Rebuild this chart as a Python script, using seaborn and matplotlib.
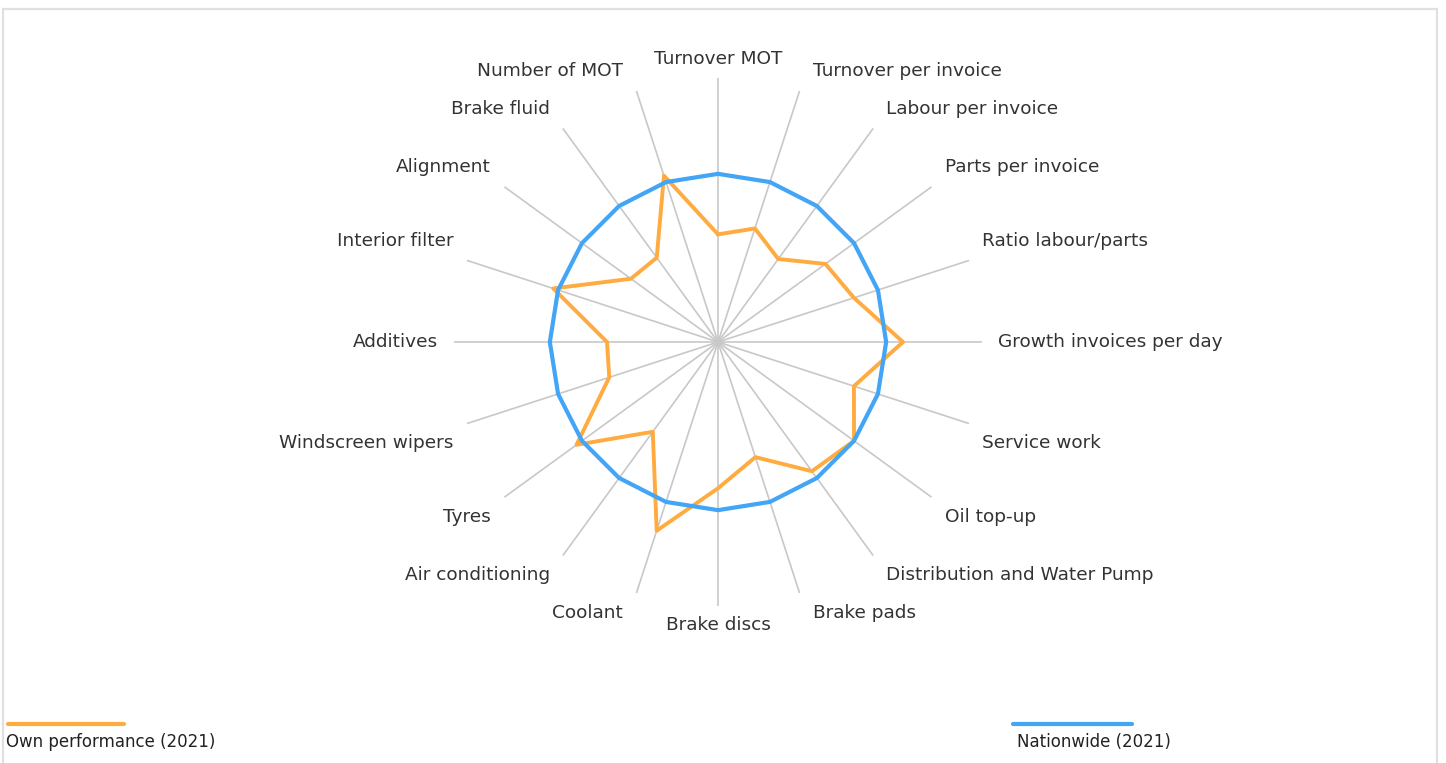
import numpy as np
import pandas as pd
import matplotlib
matplotlib.use("Agg")
import matplotlib.pyplot as plt
from matplotlib.lines import Line2D
from matplotlib.patches import Rectangle
import seaborn as sns

categories = [
    "Turnover MOT", "Turnover per invoice", "Labour per invoice", "Parts per invoice",
    "Ratio labour/parts", "Growth invoices per day", "Service work", "Oil top-up",
    "Distribution and Water Pump", "Brake pads", "Brake discs", "Coolant",
    "Air conditioning", "Tyres", "Windscreen wipers", "Additives",
    "Interior filter", "Alignment", "Brake fluid", "Number of MOT",
]
own_values = [64, 71, 61, 79, 85, 110, 85, 100, 95, 72, 87, 118,
              66, 104, 68, 66, 103, 64, 62, 104]
nationwide_values = [100] * 20
series_names = ["Own performance (2021)", "Nationwide (2021)"]
r_max = 157

orange = "#FFAB40"
blue = "#42A5F5"

sns.set_theme(style="white")
plt.rcParams['font.family'] = ['DejaVu Sans']

n = len(categories)
angles = np.linspace(0, 2 * np.pi, n, endpoint=False)

def closed_frame(values, name):
    th = list(angles) + [2 * np.pi]
    rr = list(values) + [values[0]]
    return pd.DataFrame({"theta": th, "r": rr, "series": name})

df = pd.concat([closed_frame(own_values, series_names[0]),
                closed_frame(nationwide_values, series_names[1])], ignore_index=True)

W, H = 1446, 763
fig = plt.figure(figsize=(W / 100, H / 100), dpi=100)
fig.patch.set_facecolor("white")

cx, cy, R = 718, 342, 264
ax = fig.add_axes([(cx - R) / W, (H - cy - R) / H, 2 * R / W, 2 * R / H], projection="polar")
ax.set_theta_zero_location("N")
ax.set_theta_direction(-1)
ax.set_ylim(0, r_max)
ax.set_facecolor("none")

# spokes
ax.set_xticks(angles)
ax.set_xticklabels([])
ax.set_yticks([])
ax.xaxis.grid(True, color="#c8c8c8", linewidth=1.2)
ax.yaxis.grid(False)
ax.spines["polar"].set_visible(False)

sns.lineplot(data=df[df.series == series_names[0]], x="theta", y="r", sort=False,
             estimator=None, color=orange, linewidth=2.8, ax=ax, legend=False, zorder=3)
sns.lineplot(data=df[df.series == series_names[1]], x="theta", y="r", sort=False,
             estimator=None, color=blue, linewidth=3.0, ax=ax, legend=False, zorder=4)
ax.set_xlabel("")
ax.set_ylabel("")
ax.set_ylim(0, r_max)

for ang, lab in zip(angles, categories):
    s, c = np.sin(ang), np.cos(ang)
    if abs(s) < 0.01:
        ha, dx = "center", 0
    elif s > 0:
        ha, dx = "left", 9.5
    else:
        ha, dx = "right", -9.5
    if abs(c) < 0.01:
        dy = 0
        dx = 11.5 * np.sign(s)
    else:
        dy = 14 * np.sign(c)
    ax.annotate(lab, xy=(ang, r_max), xytext=(dx, dy), textcoords="offset points",
                ha=ha, va="center", fontsize=13.3, color="#333333", annotation_clip=False)

# frame
fig.patches.append(Rectangle((3 / W, -0.05), (1437 - 3) / W, 1 - 9 / H + 0.05,
                             transform=fig.transFigure, fill=False,
                             edgecolor="#e0e0e0", linewidth=1.6))

# legend
ly = 1 - 724 / H
ty = 1 - 742 / H
fig.lines.append(Line2D([8 / W, 124 / W], [ly, ly], transform=fig.transFigure,
                        color=orange, linewidth=3))
fig.text(6 / W, ty, series_names[0], ha="left", va="center", fontsize=12, color="#222222")
fig.lines.append(Line2D([1013 / W, 1132 / W], [ly, ly], transform=fig.transFigure,
                        color=blue, linewidth=3))
fig.text(1017 / W, ty, series_names[1], ha="left", va="center", fontsize=12, color="#222222")

fig.savefig("out.png", dpi=100, facecolor="white")
